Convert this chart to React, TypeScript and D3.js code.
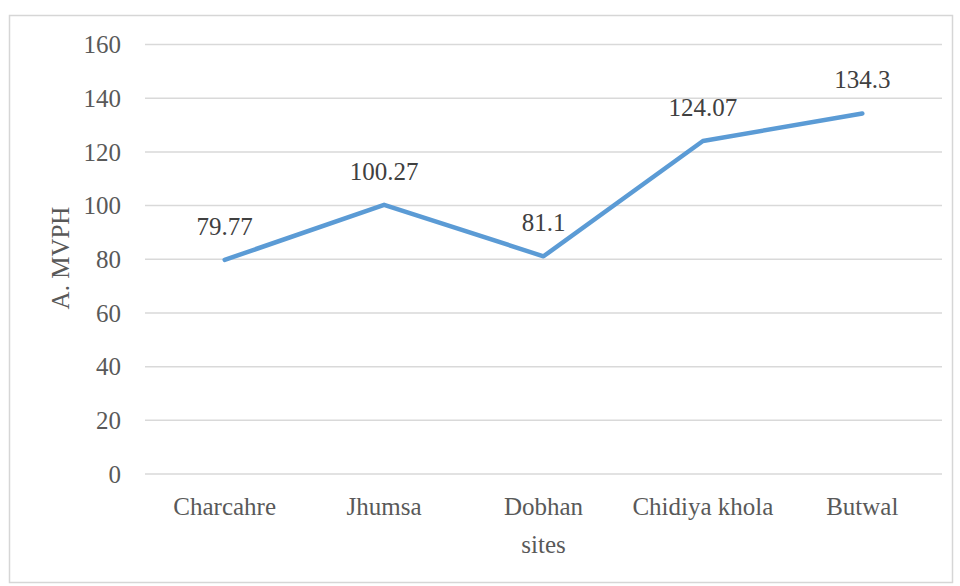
import React from "react";
import * as d3 from "d3";

const categories = ["Charcahre", "Jhumsa", "Dobhan", "Chidiya khola", "Butwal"];
const values = [79.77, 100.27, 81.1, 124.07, 134.3];
const valueLabels = ["79.77", "100.27", "81.1", "124.07", "134.3"];
const yTicks = [0, 20, 40, 60, 80, 100, 120, 140, 160];
const yTitle = "A. MVPH";
const xTitle = "sites";

const W = 960;
const H = 586;
const FONT = "Liberation Serif, Tinos, Times, serif";

export default function App() {
  const x = d3.scaleBand<string>().domain(categories).range([145, 942]);
  const y = d3.scaleLinear().domain([0, 160]).range([474, 44.5]);
  const line = d3
    .line<number>()
    .x((_, i) => (x(categories[i]) as number) + x.bandwidth() / 2)
    .y((d) => y(d));

  const ts = { fontFamily: FONT };

  return (
    <svg
      width={W}
      height={H}
      style={{ position: "absolute", left: 0, top: 0, background: "#fff" }}
    >
      <rect x={9.5} y={15.5} width={943} height={567} fill="#fff" stroke="#d6d6d6" strokeWidth={1.5} />
      {yTicks.map((t) => (
        <g key={t}>
          <line x1={145} x2={942} y1={y(t)} y2={y(t)} stroke="#d9d9d9" strokeWidth={1.5} />
          <text x={121} y={y(t)} dy="0.35em" textAnchor="end" fontSize={25} fill="#595959" style={ts}>
            {t}
          </text>
        </g>
      ))}
      {categories.map((c) => (
        <text
          key={c}
          x={(x(c) as number) + x.bandwidth() / 2}
          y={515}
          textAnchor="middle"
          fontSize={25}
          fill="#595959"
          style={ts}
        >
          {c}
        </text>
      ))}
      <text
        x={(x("Dobhan") as number) + x.bandwidth() / 2}
        y={553}
        textAnchor="middle"
        fontSize={25}
        fill="#595959"
        style={ts}
      >
        {xTitle}
      </text>
      <text
        transform={`translate(60,258) rotate(-90)`}
        dy="0.35em"
        textAnchor="middle"
        fontSize={25}
        fill="#595959"
        style={ts}
      >
        {yTitle}
      </text>
      <path
        d={line(values) as string}
        fill="none"
        stroke="#5B9BD5"
        strokeWidth={4.5}
        strokeLinejoin="round"
        strokeLinecap="round"
      />
      {values.map((v, i) => (
        <text
          key={i}
          x={(x(categories[i]) as number) + x.bandwidth() / 2}
          y={y(v) - 25}
          textAnchor="middle"
          fontSize={25}
          fill="#404040"
          style={ts}
        >
          {valueLabels[i]}
        </text>
      ))}
    </svg>
  );
}
